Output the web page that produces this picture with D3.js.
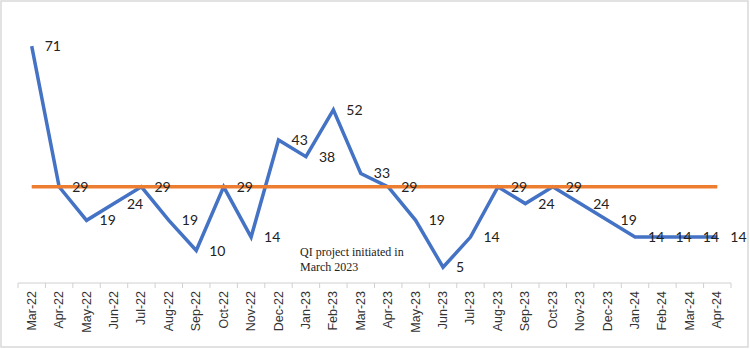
<!DOCTYPE html>
<html>
  <head>
    <title>QI monthly line</title>
    <script src="https://d3js.org/d3.v7.min.js"></script>
    <style>
      body { margin: 0; background: #fff; }
    </style>
  </head>
  <body>
    <svg width="750" height="349"></svg>
    <script>
      const months = ["Mar-22","Apr-22","May-22","Jun-22","Jul-22","Aug-22","Sep-22","Oct-22","Nov-22",
        "Dec-22","Jan-23","Feb-23","Mar-23","Apr-23","May-23","Jun-23","Jul-23","Aug-23","Sep-23",
        "Oct-23","Nov-23","Dec-23","Jan-24","Feb-24","Mar-24","Apr-24"];
      const values = [71,29,19,24,29,19,10,29,14,43,38,52,33,29,19,5,14,29,24,29,24,19,14,14,14,14];
      const median = 29;
      const noteLines = ["QI project initiated  in", "March 2023"];

      const svg = d3.select("svg");
      const width = +svg.attr("width");
      const height = +svg.attr("height");

      svg.append("rect")
        .attr("x", 1).attr("y", 1)
        .attr("width", width - 3).attr("height", height - 3)
        .attr("fill", "#fff")
        .attr("stroke", "#d9d9d9")
        .attr("stroke-width", 1.5);

      const xScale = d3.scaleBand().domain(months).range([18, 731]);
      const yScale = d3.scaleLinear().domain([0, 80]).range([284, 16]);
      const xc = d => xScale(d) + xScale.bandwidth() / 2;

      // category axis with ticks on the band edges
      const axis = svg.append("g").attr("transform", "translate(0,283)");
      axis.append("line")
        .attr("x1", 18).attr("x2", 731)
        .attr("stroke", "#d0d0d0").attr("stroke-width", 1);
      axis.selectAll("line.tick")
        .data(months.concat([null]))
        .enter().append("line")
          .attr("class", "tick")
          .attr("x1", (d, i) => 18 + i * xScale.step())
          .attr("x2", (d, i) => 18 + i * xScale.step())
          .attr("y1", 0).attr("y2", 5)
          .attr("stroke", "#d0d0d0");
      axis.selectAll("text")
        .data(months)
        .enter().append("text")
          .attr("transform", d => `translate(${xc(d) + 4},8) rotate(-90)`)
          .attr("text-anchor", "end")
          .attr("font-family", "Liberation Sans, Arial, sans-serif")
          .attr("font-size", 12.5)
          .attr("fill", "#333")
          .text(d => d);

      const line = d3.line()
        .x((d, i) => xc(months[i]))
        .y(d => yScale(d));

      svg.append("path")
        .datum(values)
        .attr("d", line)
        .attr("fill", "none")
        .attr("stroke", "#4472C4")
        .attr("stroke-width", 3.5)
        .attr("stroke-linejoin", "miter");

      // median line (drawn over the data series)
      svg.append("line")
        .attr("x1", xc(months[0])).attr("x2", xc(months[months.length - 1]))
        .attr("y1", yScale(median)).attr("y2", yScale(median))
        .attr("stroke", "#ED7D31")
        .attr("stroke-width", 3.5);

      svg.selectAll("text.lbl")
        .data(values)
        .enter().append("text")
          .attr("class", "lbl")
          .attr("x", (d, i) => xc(months[i]) + 13)
          .attr("y", d => yScale(d) + 5)
          .attr("font-family", "Lato, Open Sans, sans-serif")
          .attr("font-size", 14)
          .attr("fill", "#222")
          .text(d => d);

      svg.append("text")
        .attr("x", 300).attr("y", 256)
        .attr("font-family", "Liberation Serif, Times New Roman, serif")
        .attr("font-size", 12)
        .attr("fill", "#222")
        .selectAll("tspan")
        .data(noteLines)
        .enter().append("tspan")
          .attr("x", 300)
          .attr("dy", (d, i) => i ? 15 : 0)
          .text(d => d);
    </script>
  </body>
</html>
